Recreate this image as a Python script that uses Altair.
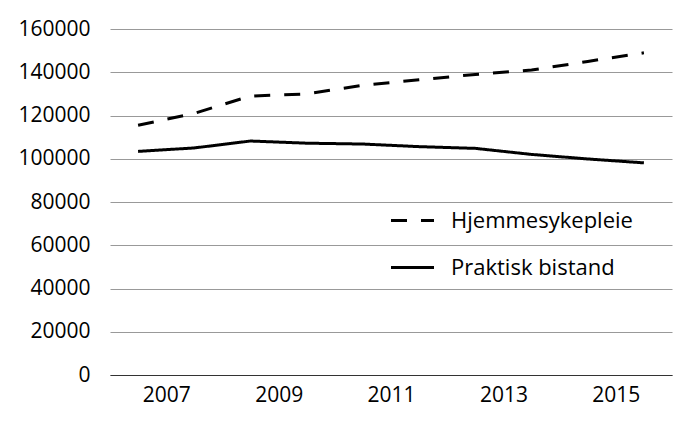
import altair as alt
import pandas as pd

years = ["2006", "2007", "2008", "2009", "2010", "2011", "2012", "2013", "2014", "2015"]
hjemmesykepleie = [115500, 121000, 129000, 130000, 134000, 136500, 139000, 141000, 145000, 149000]
praktisk_bistand = [103400, 105000, 108200, 107200, 106800, 105600, 104800, 102000, 99900, 98100]
series = ["Hjemmesykepleie", "Praktisk bistand"]
x_tick_years = [2007, 2009, 2011, 2013, 2015]
y_ticks = [0, 20000, 40000, 60000, 80000, 100000, 120000, 140000, 160000]

rows = []
for name, vals in zip(series, [hjemmesykepleie, praktisk_bistand]):
    for yr, v in zip(years, vals):
        rows.append({"year": yr, "series": name, "value": v})
df = pd.DataFrame(rows)

FONT = "Open Sans"

chart = alt.Chart(df).mark_line(color="black", strokeWidth=3, strokeCap="butt").encode(
    x=alt.X(
        "year:T",
        timeUnit="utcyear",
        bandPosition=0.5,
        title=None,
        scale=alt.Scale(
            domain=[alt.DateTime(year=2006, month=1, date=1, utc=True),
                    alt.DateTime(year=2016, month=1, date=1, utc=True)],
            nice=False,
        ),
        axis=alt.Axis(
            values=[alt.DateTime(year=y, month=1, date=1, utc=True) for y in x_tick_years],
            format="%Y",
            grid=False,
            ticks=False,
            domain=True,
            domainColor="#333333",
            domainWidth=1.2,
            labelPadding=9,
            labelFontSize=21,
            labelFont=FONT,
            labelColor="black",
        ),
    ),
    y=alt.Y(
        "value:Q",
        title=None,
        scale=alt.Scale(domain=[0, 160000], nice=False),
        axis=alt.Axis(
            values=y_ticks,
            format="d",
            grid=True,
            gridColor="#999999",
            gridWidth=1,
            ticks=False,
            domain=False,
            labelPadding=20,
            labelFontSize=21,
            labelFont=FONT,
            labelColor="black",
        ),
    ),
    strokeDash=alt.StrokeDash(
        "series:N",
        scale=alt.Scale(domain=series, range=[[16, 14], [1, 0]]),
        legend=alt.Legend(
            orient="none",
            legendX=279,
            legendY=168,
            title=None,
            symbolType="stroke",
            symbolSize=1850,
            symbolStrokeWidth=3,
            symbolStrokeColor="black",
            labelFontSize=22,
            labelFont=FONT,
            labelColor="black",
            labelOffset=15,
            labelLimit=400,
            rowPadding=12,
            padding=0,
        ),
    ),
    detail="series:N",
).properties(
    width=562,
    height=346,
    autosize=alt.AutoSizeParams(type="none"),
    padding={"left": 102, "top": 21, "right": 20, "bottom": 40},
).configure_view(stroke=None)

chart.save("out.html", embed_options={"renderer": "svg", "actions": False})
